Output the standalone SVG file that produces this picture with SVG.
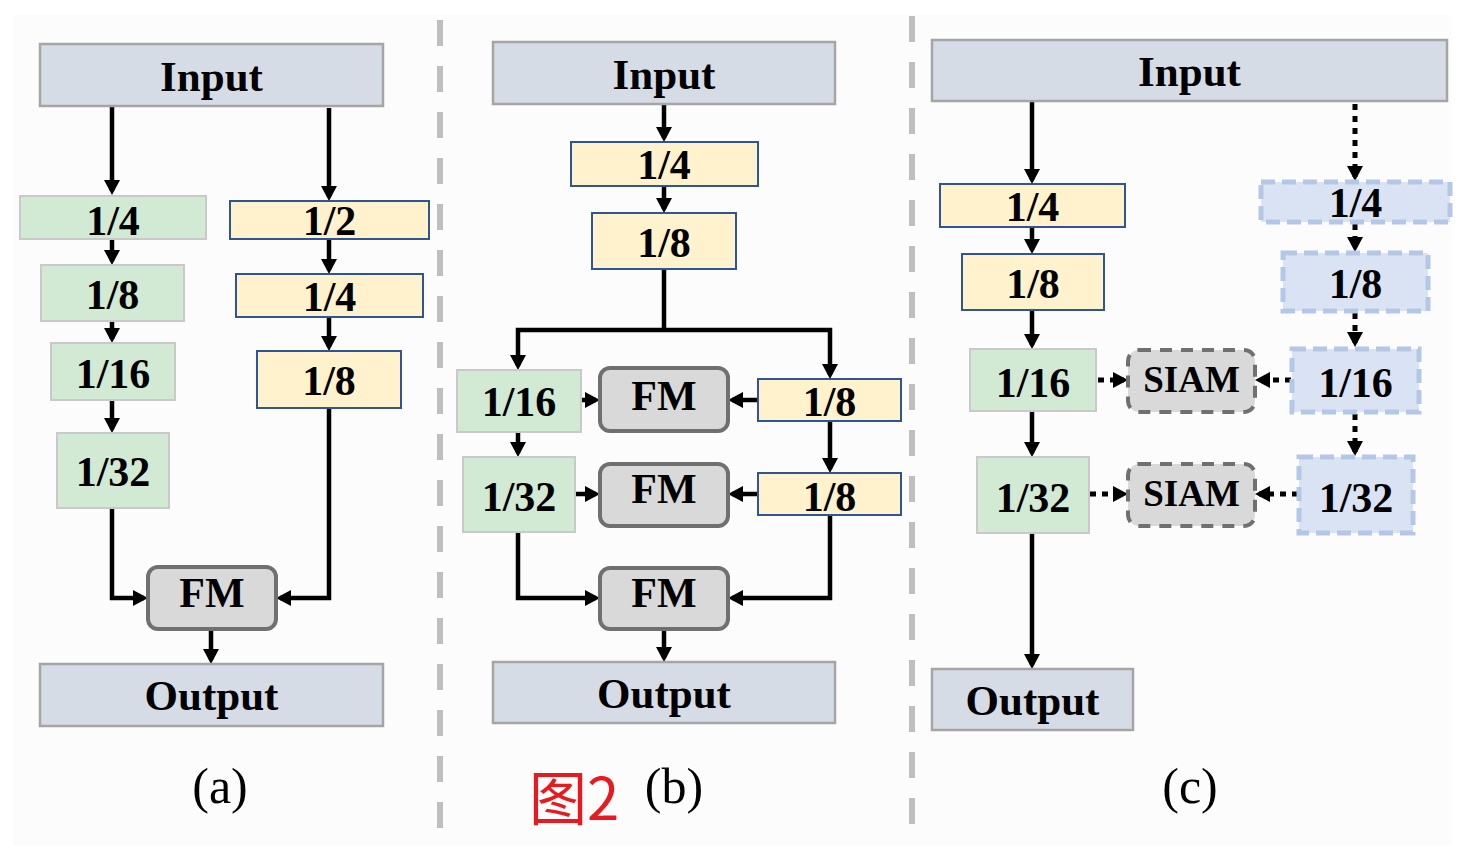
<svg xmlns="http://www.w3.org/2000/svg" width="1480" height="846" viewBox="0 0 1480 846">
<style>
text{font-family:"Liberation Serif","Times New Roman",serif;text-anchor:middle;fill:#000}
.b{font-weight:bold}
.io{fill:#d6dce5;stroke:#a5a5a5;stroke-width:2.5}
.g{fill:#d2e9d4;stroke:#c9c9c9;stroke-width:2}
.y{fill:#fff2cc;stroke:#2f5597;stroke-width:2}
.fm{fill:#d9d9d9;stroke:#707070;stroke-width:4}
.bl{fill:#dae3f3;stroke:#b4c7e7;stroke-width:5;stroke-dasharray:14 7}
.si{fill:#d9d9d9;stroke:#707070;stroke-width:4;stroke-dasharray:12 9}
.c{fill:none;stroke:#000;stroke-width:4.5;marker-end:url(#ah)}
.n{fill:none;stroke:#000;stroke-width:4.5}
.d{fill:none;stroke:#000;stroke-width:5;stroke-dasharray:6 6;marker-end:url(#ah)}
.sep{stroke:#bfbfbf;stroke-width:6;stroke-dasharray:26 20}
.t40{font-size:42px}
.t43{font-size:43px}
.t36{font-size:37px}
.lab{font-size:50px}
</style>
<defs>
<marker id="ah" markerUnits="userSpaceOnUse" markerWidth="16" markerHeight="16" refX="11" refY="8" orient="auto">
<path d="M0,0 L15,8 L0,16 z" fill="#000"/>
</marker>
</defs>
<rect x="0" y="0" width="1480" height="846" fill="#ffffff"/>
<rect x="13" y="15" width="1439" height="831" fill="#fcfcfc"/>
<g id="separators">
<line class="sep" x1="440" y1="20" x2="440" y2="830"/>
<line class="sep" x1="912" y1="16" x2="912" y2="830"/>
</g>
<g id="connectors">
<!-- panel a -->
<path class="c" d="M112,106 V191"/>
<path class="c" d="M329,108 V197"/>
<path class="c" d="M112,239 V261"/>
<path class="c" d="M112,321 V339"/>
<path class="c" d="M112,400 V429"/>
<path class="c" d="M112,508 V598 H144"/>
<path class="c" d="M329,239 V270"/>
<path class="c" d="M329,317 V347"/>
<path class="c" d="M329,408 V598 H280"/>
<path class="c" d="M211,629 V660"/>
<!-- panel b -->
<path class="c" d="M664,104 V138"/>
<path class="c" d="M664,186 V209"/>
<path class="n" d="M664,269 V330"/>
<path class="c" d="M664,330 H518 V366"/>
<path class="c" d="M664,330 H830 V375"/>
<path class="c" d="M581,400 H596"/>
<path class="c" d="M758,400 H732"/>
<path class="c" d="M518,432 V453"/>
<path class="c" d="M830,421 V469"/>
<path class="c" d="M575,494 H596"/>
<path class="c" d="M758,494 H732"/>
<path class="c" d="M518,532 V598 H596"/>
<path class="c" d="M830,515 V598 H732"/>
<path class="c" d="M664,629 V658"/>
<!-- panel c -->
<path class="c" d="M1032,101 V180"/>
<path class="c" d="M1032,227 V250"/>
<path class="c" d="M1032,310 V345"/>
<path class="c" d="M1032,411 V453"/>
<path class="c" d="M1032,533 V665"/>
<path class="d" d="M1355,104 V177"/>
<path class="d" d="M1355,224 V248"/>
<path class="d" d="M1355,313 V343"/>
<path class="d" d="M1355,414 V452"/>
<path class="d" d="M1098,380 H1124"/>
<path class="d" d="M1291,380 H1259"/>
<path class="d" d="M1090,494 H1124"/>
<path class="d" d="M1298,494 H1259"/>
</g>
<!-- panel a nodes -->
<g id="a-input"><rect class="io" x="40" y="44" width="343" height="62"/><text class="b t43" x="211.5" y="91">Input</text></g>
<g id="a-g14"><rect class="g" x="20" y="196" width="186" height="43"/><text class="b t40" x="113" y="235">1/4</text></g>
<g id="a-g18"><rect class="g" x="41" y="265" width="143" height="56"/><text class="b t40" x="112.5" y="309">1/8</text></g>
<g id="a-g116"><rect class="g" x="51" y="343" width="124" height="57"/><text class="b t40" x="113" y="388">1/16</text></g>
<g id="a-g132"><rect class="g" x="57" y="433" width="112" height="75"/><text class="b t40" x="113" y="486">1/32</text></g>
<g id="a-y12"><rect class="y" x="230" y="201" width="199" height="38"/><text class="b t40" x="329.5" y="235">1/2</text></g>
<g id="a-y14"><rect class="y" x="236" y="274" width="187" height="43"/><text class="b t40" x="329.5" y="311">1/4</text></g>
<g id="a-y18"><rect class="y" x="257" y="351" width="144" height="57"/><text class="b t40" x="329" y="395">1/8</text></g>
<g id="a-fm"><rect class="fm" x="148" y="567" width="128" height="62" rx="10"/><text class="b t40" x="212" y="607">FM</text></g>
<g id="a-output"><rect class="io" x="40" y="664" width="343" height="62"/><text class="b t43" x="211.5" y="710">Output</text></g>
<g id="a-label"><text class="lab" x="220" y="803">(a)</text></g>
<!-- panel b nodes -->
<g id="b-input"><rect class="io" x="493" y="42" width="342" height="62"/><text class="b t43" x="664" y="89">Input</text></g>
<g id="b-y14"><rect class="y" x="571" y="142" width="187" height="44"/><text class="b t40" x="664" y="179">1/4</text></g>
<g id="b-y18"><rect class="y" x="592" y="213" width="144" height="56"/><text class="b t40" x="664" y="257">1/8</text></g>
<g id="b-g116"><rect class="g" x="457" y="370" width="124" height="62"/><text class="b t40" x="519" y="416">1/16</text></g>
<g id="b-fm1"><rect class="fm" x="600" y="368" width="128" height="63" rx="10"/><text class="b t40" x="664" y="410">FM</text></g>
<g id="b-y18a"><rect class="y" x="758" y="379" width="143" height="42"/><text class="b t40" x="829.5" y="416">1/8</text></g>
<g id="b-g132"><rect class="g" x="463" y="457" width="112" height="75"/><text class="b t40" x="519" y="511">1/32</text></g>
<g id="b-fm2"><rect class="fm" x="600" y="464" width="128" height="62" rx="10"/><text class="b t40" x="664" y="503">FM</text></g>
<g id="b-y18b"><rect class="y" x="758" y="473" width="143" height="42"/><text class="b t40" x="829.5" y="511">1/8</text></g>
<g id="b-fm3"><rect class="fm" x="600" y="568" width="128" height="61" rx="10"/><text class="b t40" x="664" y="607">FM</text></g>
<g id="b-output"><rect class="io" x="493" y="662" width="342" height="61"/><text class="b t43" x="664" y="708">Output</text></g>
<g id="b-label"><text class="lab" x="674" y="803">(b)</text><text x="574" y="820" style="font-family:'Noto Sans CJK SC','Noto Sans',sans-serif;font-size:58px;fill:#e8191f">图2</text></g>
<!-- panel c nodes -->
<g id="c-input"><rect class="io" x="932" y="40" width="515" height="61"/><text class="b t43" x="1189.5" y="86">Input</text></g>
<g id="c-y14"><rect class="y" x="940" y="184" width="185" height="43"/><text class="b t40" x="1032.5" y="221">1/4</text></g>
<g id="c-y18"><rect class="y" x="962" y="254" width="142" height="56"/><text class="b t40" x="1033" y="298">1/8</text></g>
<g id="c-g116"><rect class="g" x="970" y="349" width="126" height="62"/><text class="b t40" x="1033" y="397">1/16</text></g>
<g id="c-g132"><rect class="g" x="977" y="457" width="112" height="76"/><text class="b t40" x="1033" y="512">1/32</text></g>
<g id="c-siam1"><rect class="si" x="1128" y="350" width="127" height="62" rx="11"/><text class="b t36" x="1191.5" y="392">SIAM</text></g>
<g id="c-siam2"><rect class="si" x="1128" y="464" width="127" height="62" rx="11"/><text class="b t36" x="1191.5" y="506">SIAM</text></g>
<g id="c-b14"><rect class="bl" x="1261" y="182" width="189" height="40"/><text class="b t40" x="1355.5" y="217">1/4</text></g>
<g id="c-b18"><rect class="bl" x="1283" y="253" width="145" height="58"/><text class="b t40" x="1355.5" y="298">1/8</text></g>
<g id="c-b116"><rect class="bl" x="1292" y="349" width="127" height="63"/><text class="b t40" x="1355.5" y="397">1/16</text></g>
<g id="c-b132"><rect class="bl" x="1299" y="457" width="114" height="76"/><text class="b t40" x="1356" y="512">1/32</text></g>
<g id="c-output"><rect class="io" x="932" y="669" width="201" height="61"/><text class="b t43" x="1032.5" y="715">Output</text></g>
<g id="c-label"><text class="lab" x="1190" y="803">(c)</text></g>
</svg>
